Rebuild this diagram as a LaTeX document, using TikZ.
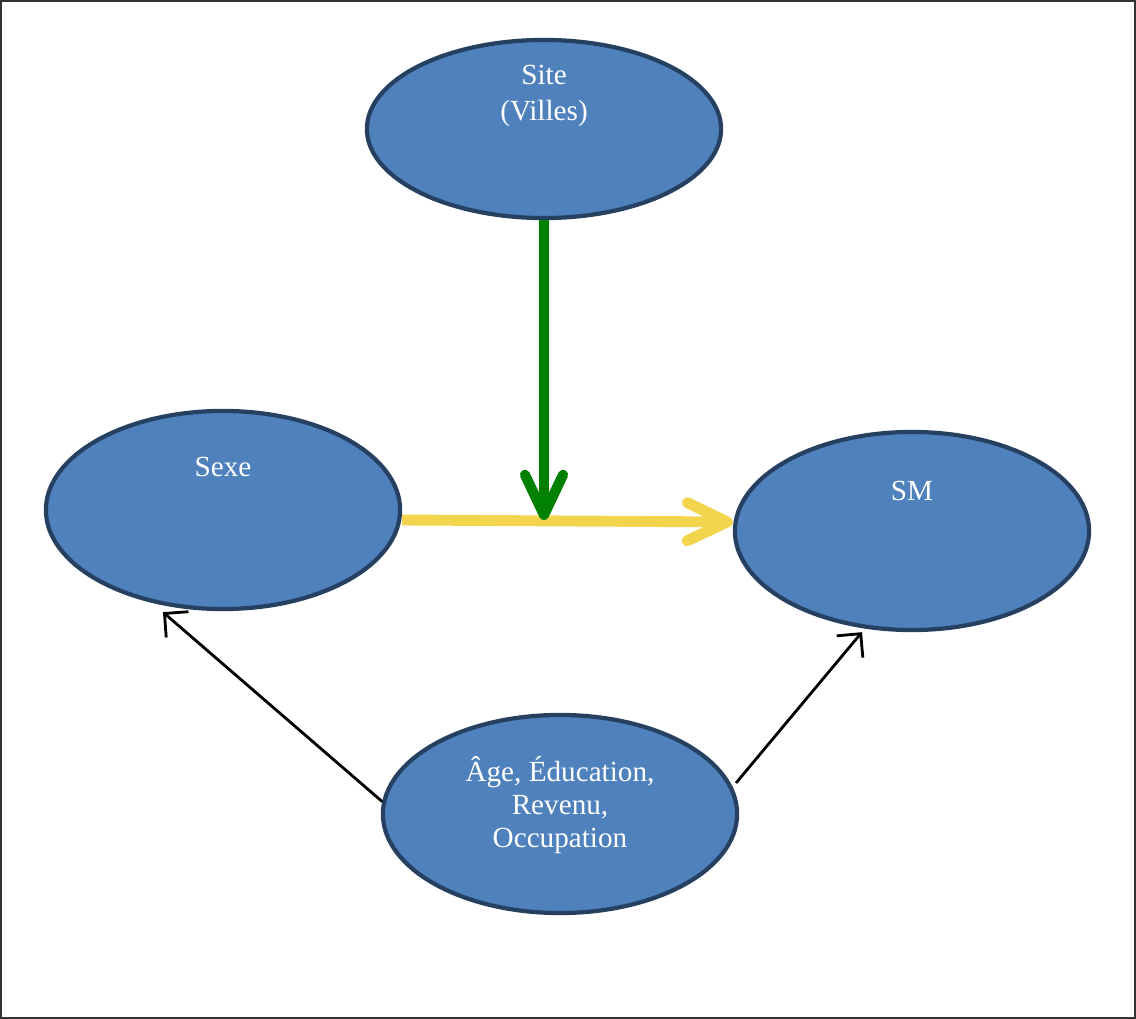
\documentclass[tikz,border=0pt]{standalone}
\usepackage{fontspec}
\setmainfont{Liberation Serif}
\usetikzlibrary{arrows.meta,shapes.geometric}
\definecolor{bleu}{RGB}{79,129,189}
\definecolor{bord}{RGB}{38,64,98}
\definecolor{jaune}{RGB}{242,213,77}
\definecolor{vert}{RGB}{0,128,0}
\tikzset{
x=0.01cm, y=-0.01cm,
main node/.style={ellipse,draw=bord,fill=bleu,line width=1.2pt,minimum width=3.54cm,minimum height=1.98cm,inner sep=0pt},
texte/.style={text=white,align=center,inner sep=0pt,font=\fontsize{8.3}{9.4}\selectfont},
freccia/.style={-{Straight Barb[length=1.7mm,width=3.4mm]},line width=0.8pt},
grosse/.style={-{Straight Barb[length=4mm,width=3.8mm,round]},line width=2.9pt}}

\begin{document}
\begin{tikzpicture}

\useasboundingbox (0,0) rectangle (1136,1019);
\draw[line width=0.6pt,black!80] (1,1) rectangle (1135,1018);

\node (1) [main node,minimum height=1.78cm] at (544,129) {};
\node (2) [main node] at (223,510) {};
\node (3) [main node] at (912,531) {};
\node (4) [main node] at (560,814) {};
\coordinate (m) at (544,520);

\node (1t) [texte] at (544,96) {Site\\[0.6pt](Villes)};
\node (2t) [texte] at (223,467) {Sexe};
\node (3t) [texte] at (912,491) {SM};
\node (4t) [texte] at (560,805) {Âge, Éducation,\\Revenu,\\Occupation};

\draw[grosse,draw=jaune,line width=3.1pt] ([yshift=-1mm]2.east) -- ([yshift=0.9mm]3.west);
\draw[grosse,draw=vert] (1.south) -- (m);
\path[freccia] (4.176) edge ([xshift=-6mm,yshift=-0.1mm]2.south);
\path[freccia] ([shift={(176,-31)}]4.center) edge ([xshift=-5mm]3.south);

\end{tikzpicture}
\end{document}
